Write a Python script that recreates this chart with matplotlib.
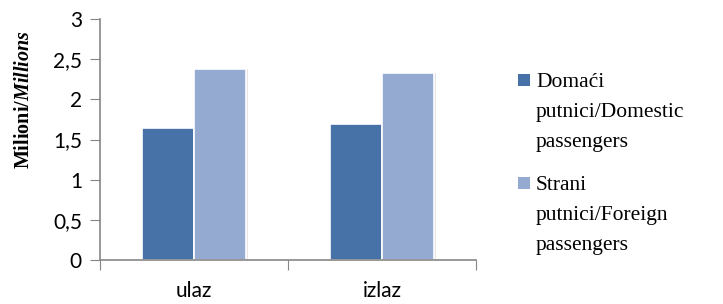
"""Putnici na granici: ulaz / izlaz, domaći i strani (milioni)."""

import matplotlib

matplotlib.use("Agg")
import matplotlib.pyplot as plt
import numpy as np
from matplotlib.patches import Rectangle

categories = ["ulaz", "izlaz"]
domestic = [1.64, 1.69]
foreign = [2.38, 2.33]
series_labels = [
    ["Domaći", "putnici/Domestic", "passengers"],
    ["Strani", "putnici/Foreign", "passengers"],
]
yticks = [0, 0.5, 1, 1.5, 2, 2.5, 3]
ytick_labels = ["0", "0,5", "1", "1,5", "2", "2,5", "3"]

C_DOM = "#4672a8"
C_FOR = "#95aad1"
AXIS = "#868686"

plt.rcParams["mathtext.fontset"] = "custom"
plt.rcParams["mathtext.rm"] = "Liberation Serif:bold"
plt.rcParams["mathtext.it"] = "Liberation Serif:italic:bold"

fig = plt.figure(figsize=(7.23, 3.04), dpi=100)
ax = fig.add_axes([100 / 723, 44 / 304, 376 / 723, 241 / 304])

x = np.arange(len(categories))
w = 0.277
for xs, vals, col in ((x - w / 2, domestic, C_DOM), (x + w / 2, foreign, C_FOR)):
    # faint drop shadow, then the bar itself
    ax.bar(xs + 0.008, vals, width=w, color="#e6e6e6", edgecolor="none", zorder=1)
    ax.bar(xs, vals, width=w, color=col, edgecolor="white", linewidth=1.2, zorder=2)

ax.set_xlim(-0.5, 1.5)
ax.set_ylim(0, 3)
ax.set_yticks(yticks)
ax.set_yticklabels(ytick_labels, fontfamily="Lato", fontsize=15)
ax.set_xticks([-0.5, 0.5, 1.5])
ax.set_xticklabels([])
ax.set_xticks(x, minor=True)
ax.set_xticklabels(categories, minor=True, fontfamily="Lato", fontsize=15)
ax.tick_params(axis="x", which="minor", length=0, pad=15)
ax.tick_params(axis="x", which="major", length=7, direction="out", color=AXIS)
ax.tick_params(axis="y", length=7, direction="out", color=AXIS, pad=6)

for side in ("top", "right"):
    ax.spines[side].set_visible(False)
for side in ("left", "bottom"):
    ax.spines[side].set_color(AXIS)
    ax.spines[side].set_linewidth(1.2)

fig.text(
    24 / 723, 1 - 100 / 304,
    r"$\mathrm{Milioni/}\mathit{Millions}$",
    rotation=90, ha="center", va="center", fontsize=14.5,
)

# legend drawn by hand: square next to the first line of each wrapped label
for lines, col, top in zip(series_labels, (C_DOM, C_FOR), (87, 190)):
    fig.patches.append(
        Rectangle((518 / 723, 1 - (top - 1) / 304), 12 / 723, 12 / 304,
                  transform=fig.transFigure, facecolor=col, edgecolor="none")
    )
    for i, line in enumerate(lines):
        fig.text(536 / 723, 1 - (top + 30 * i) / 304, line, ha="left",
                 va="baseline", fontfamily="Liberation Serif", fontsize=15.5)

fig.savefig("out.png", dpi=100)
